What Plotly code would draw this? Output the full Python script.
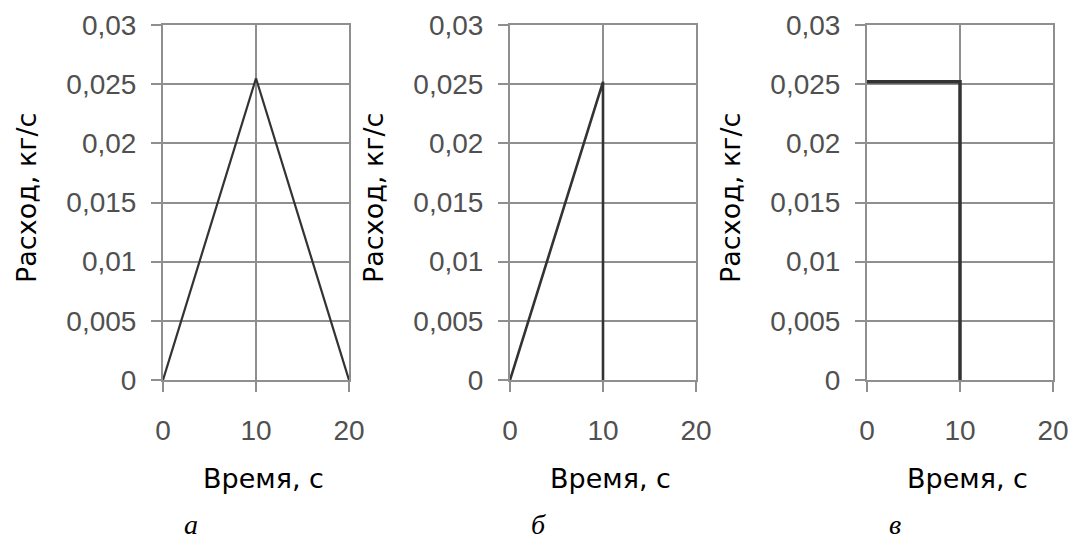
import plotly.graph_objects as go

W, H = 1073, 540

# Data
time_a = [0, 10, 20]
flow_a = [0, 0.0255, 0]
time_b = [0, 10, 10]
flow_b = [0, 0.0252, 0]
time_c = [0, 10, 10]
flow_c = [0.0252, 0.0252, 0]

x_ticks = [0, 10, 20]
y_ticks = [0, 0.005, 0.01, 0.015, 0.02, 0.025, 0.03]
x_title = "Время, с"
y_title = "Расход, кг/с"
panel_labels = ["а", "б", "в"]

# Layout (pixels)
plot_left = [163, 510, 867]
plot_width = 186
plot_top, plot_bottom = 25, 380

fig = go.Figure()
series = [(time_a, flow_a, 2.2), (time_b, flow_b, 2.6), (time_c, flow_c, 3.5)]
for i, (xs, ys, w) in enumerate(series):
    sfx = "" if i == 0 else str(i + 1)
    fig.add_trace(go.Scatter(x=xs, y=ys, mode="lines",
                             line=dict(color="#333333", width=w),
                             xaxis="x" + sfx, yaxis="y" + sfx,
                             showlegend=False, hoverinfo="skip"))

axis_common = dict(showgrid=True, gridcolor="#8f8f8f", gridwidth=2,
                   showline=True, linecolor="#8f8f8f", linewidth=2, mirror=True,
                   ticks="outside", ticklen=10, tickwidth=2, tickcolor="#8f8f8f",
                   zeroline=False, automargin=False,
                   tickfont=dict(family="Liberation Sans, Arial", size=28, color="#505050"))

layout = dict(width=W, height=H, margin=dict(l=0, r=0, t=0, b=0, pad=0),
              paper_bgcolor="white", plot_bgcolor="white", separators=", ",
              showlegend=False, template="none")

ydom = [1 - plot_bottom / H, 1 - plot_top / H]
annotations = []
for i in range(3):
    sfx = "" if i == 0 else str(i + 1)
    xd = [plot_left[i] / W, (plot_left[i] + plot_width) / W]
    layout["xaxis" + sfx] = dict(domain=xd, range=[0, 20], tickvals=x_ticks,
                                 anchor="y" + sfx, ticklabelstandoff=14, **axis_common)
    layout["yaxis" + sfx] = dict(domain=ydom, range=[0, 0.03], tickvals=y_ticks,
                                 anchor="x" + sfx, ticklabelstandoff=9, **axis_common)
    annotations.append(dict(text=y_title, textangle=-90, showarrow=False,
                            xref="paper", yref="paper",
                            x=(plot_left[i] - 137) / W, y=1 - 198 / H,
                            xanchor="center", yanchor="middle",
                            font=dict(family="DejaVu Sans", size=27, color="black")))
    annotations.append(dict(text=x_title, showarrow=False, xref="paper", yref="paper",
                            x=(plot_left[i] + plot_width / 2 + 7) / W, y=1 - 478 / H,
                            xanchor="center", yanchor="middle",
                            font=dict(family="DejaVu Sans", size=27, color="black")))
    annotations.append(dict(text="<i>" + panel_labels[i] + "</i>", showarrow=False,
                            xref="paper", yref="paper",
                            x=(plot_left[i] + plot_width / 2 - 65) / W, y=1 - 524 / H,
                            xanchor="center", yanchor="middle",
                            font=dict(family="Liberation Serif", size=28, color="black")))

layout["annotations"] = annotations
fig.update_layout(**layout)
fig.write_html("out.html")
